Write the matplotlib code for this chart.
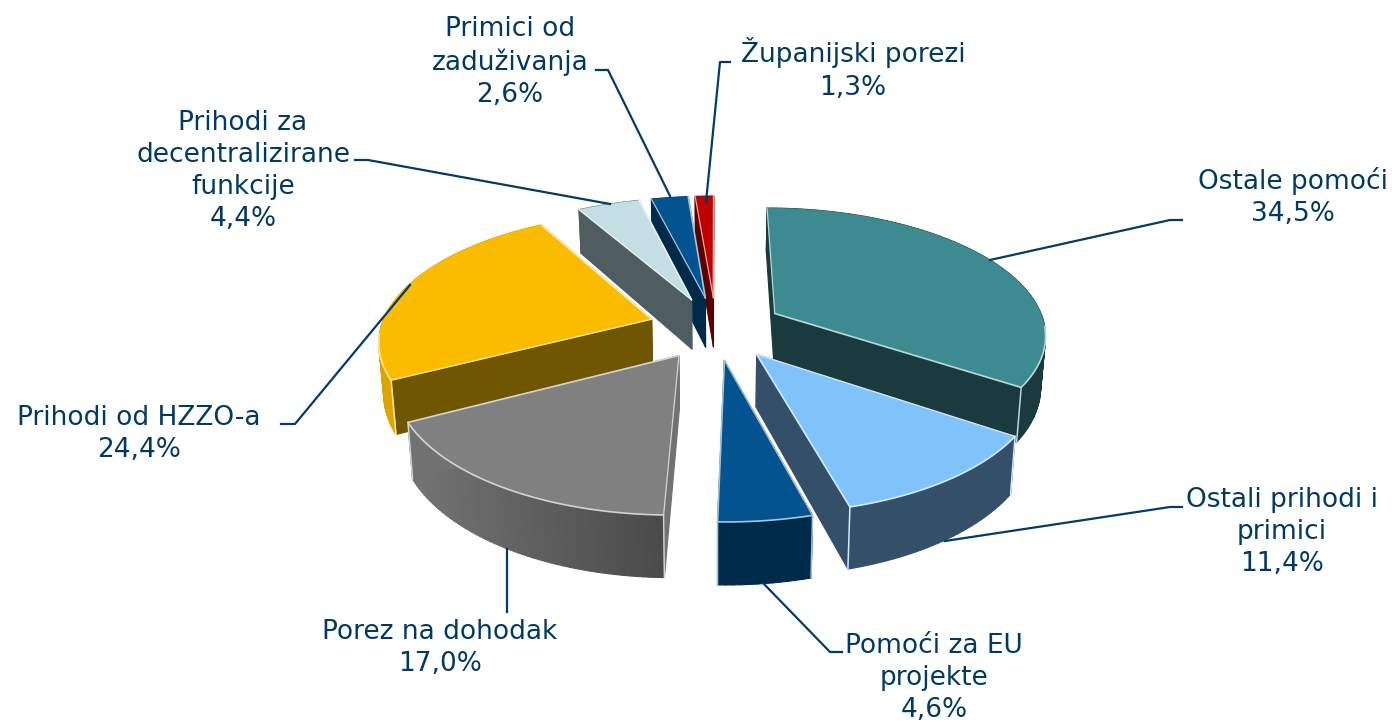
import numpy as np
import matplotlib
matplotlib.use("Agg")
import matplotlib.pyplot as plt
from matplotlib.patches import Polygon
from matplotlib.colors import to_rgb

names = ["Ostale pomoći", "Ostali prihodi i\nprimici", "Pomoći za EU\nprojekte", "Porez na dohodak",
         "Prihodi od HZZO-a", "Prihodi za\ndecentralizirane\nfunkcije", "Primici od\nzaduživanja", "Županijski porezi"]
shares = [34.5, 11.4, 4.6, 17.0, 24.4, 4.4, 2.6, 1.3]

top_colors = ["#3d8a91", "#80c3fb", "#025390", "#808080", "#fbbc00", "#c3dfe3", "#025390", "#c00000"]
wall_colors = ["#1b3a3d", "#345068", "#002a4a", "#727272", "#705600", "#505d60", "#002a4a", "#5a0000"]
rim_left = ["#1b3a3d", "#345068", "#002a4a", "#747474", "#dca500", "#505d60", "#002a4a", "#5a0000"]
rim_right = ["#1b3a3d", "#345068", "#002a4a", "#4a4a4a", "#dca500", "#505d60", "#002a4a", "#5a0000"]

# centre du camembert et projection, en pixels
CX, CY = 716, 328
A, B = 271, 125.7
K = 0.153
H = 51
EXPLODE = 0.25
TEXT_COLOR = "#003a63"
LINE_COLOR = "#003b6b"

# position du texte (centre) et trait de rappel
label_pos = [(1293, 197), (1282, 532), (934, 678), (440, 648), (139, 434), (243, 171), (510, 62), (853, 69)]
leaders = [
    [(990, 260), (1170, 220), (1182, 220)],
    [(945, 541), (1170, 507), (1182, 507)],
    [(763, 583), (830, 652), (842, 652)],
    [(507, 549), (507, 612)],
    [(410, 285), (295, 424), (281, 424)],
    [(610, 204), (368, 160), (355, 160)],
    [(670, 196), (608, 70), (596, 70)],
    [(706, 202), (720, 62), (730, 62)],
]


def project(X, Y, low=False):
    X = np.asarray(X, dtype=float)
    Y = np.asarray(Y, dtype=float)
    s = 1 / (1 + K * Y)
    px = A * X * s
    py = -B * Y * s
    if low:
        px = px * 0.985
        py = py + H * s
    return CX + px, CY + py


def mix(c, other, t):
    c, other = np.array(to_rgb(c)), np.array(to_rgb(other))
    return tuple(c * (1 - t) + other * t)


def poly(ax, xs, ys, color, lw=0.8):
    ax.add_patch(Polygon(np.column_stack([xs, ys]), closed=True, facecolor=color,
                         edgecolor=color, linewidth=lw, joinstyle="round"))


fig = plt.figure(figsize=(13.92, 7.23), dpi=100)
ax = fig.add_axes([0, 0, 1, 1])
ax.set_xlim(0, 1392)
ax.set_ylim(723, 0)
ax.axis("off")

total = sum(shares)
edges = np.cumsum([0] + shares) / total * 2 * np.pi
mids = (edges[:-1] + edges[1:]) / 2
apex_x = EXPLODE * np.sin(mids)
apex_y = EXPLODE * np.cos(mids)

# du fond vers l'avant
for i in np.argsort(-apex_y):
    t = np.linspace(edges[i], edges[i + 1], max(8, int(shares[i] * 3)))
    rx = apex_x[i] + np.sin(t)
    ry = apex_y[i] + np.cos(t)
    ax0, ay0 = project(apex_x[i], apex_y[i])
    bx0, by0 = project(apex_x[i], apex_y[i], low=True)
    tx, ty = project(rx, ry)
    lx, ly = project(rx, ry, low=True)
    light = mix(top_colors[i], "#ffffff", 0.65)

    # faces radiales
    poly(ax, [ax0, tx[0], lx[0], bx0], [ay0, ty[0], ly[0], by0], wall_colors[i])
    # face extérieure, dégradé de gauche à droite
    x_min, x_max = tx.min(), tx.max()
    for j in range(len(t) - 1):
        f = ((tx[j] + tx[j + 1]) / 2 - x_min) / max(x_max - x_min, 1)
        poly(ax, [tx[j], tx[j + 1], lx[j + 1], lx[j]], [ty[j], ty[j + 1], ly[j + 1], ly[j]],
             mix(rim_left[i], rim_right[i], f))
    poly(ax, [ax0, tx[-1], lx[-1], bx0], [ay0, ty[-1], ly[-1], by0], wall_colors[i])

    # arêtes verticales
    for k in (0, -1):
        if np.cos(t[k]) < 0:
            ax.plot([tx[k], lx[k]], [ty[k], ly[k]], color=light, lw=1.1, solid_capstyle="round")
    # dessus
    poly(ax, np.r_[ax0, tx], np.r_[ay0, ty], top_colors[i], lw=0.3)
    # liseré clair: arêtes radiales et bord avant seulement
    front = np.cos(t) < -0.1
    if front.any():
        ax.plot(tx[front], ty[front], color=light, lw=1.2, solid_capstyle="round")
    ax.plot([ax0, tx[-1]], [ay0, ty[-1]], color=light, lw=1.2, solid_capstyle="round")
    ax.plot([ax0, tx[0]], [ay0, ty[0]], color=light, lw=0.9, solid_capstyle="round")

for pts in leaders:
    ax.plot([p[0] for p in pts], [p[1] for p in pts], color=LINE_COLOR, lw=1.6, zorder=5)

for name, share, pos in zip(names, shares, label_pos):
    label = name + "\n" + f"{share:.1f}%".replace(".", ",")
    ax.text(pos[0], pos[1], label, ha="center", va="center", fontsize=19, color=TEXT_COLOR,
            family="DejaVu Sans", linespacing=1.3, zorder=6)

fig.savefig("out.png", dpi=100, facecolor="white")
